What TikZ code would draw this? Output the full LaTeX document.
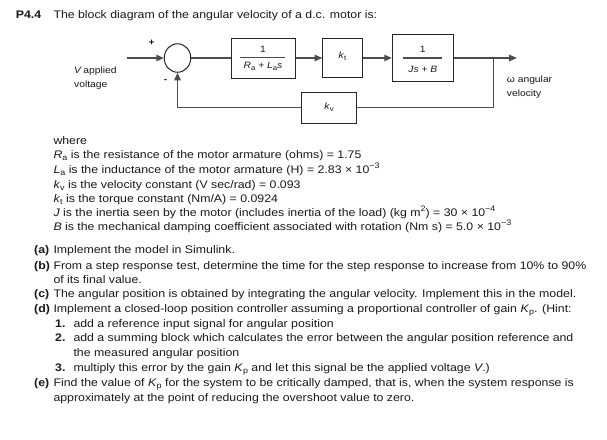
\documentclass[tikz,border=0pt]{standalone}
\usepackage{fontspec}
\setmainfont{Liberation Sans}[FakeStretch=1.12]
\usetikzlibrary{arrows.meta,shapes.geometric}
\newcommand{\sbs}[1]{\raisebox{-0.4ex}{\fontsize{8}{8}\selectfont #1}}
\newcommand{\sps}[1]{\raisebox{0.85ex}{\fontsize{8}{8}\selectfont #1}}
\newcommand{\dsbs}[1]{\raisebox{-0.4ex}{\fontsize{7}{7}\selectfont #1}}
\begin{document}
\begin{tikzpicture}[x=1pt,y=-1pt,
  txt/.style={anchor=base west, inner sep=0pt, text=black!90, font=\fontsize{11}{13}\selectfont},
  small/.style={inner sep=0pt, text=black!90, font=\fontsize{9.2}{10}\selectfont},
  blk/.style={draw=black!85, line width=1pt, inner sep=0pt},
  con/.style={draw=black!70, line width=1.1pt},
  arr/.style={con, -{Triangle[length=7.5pt,width=6.5pt]}}]
\useasboundingbox (0,0) rectangle (607,439);
% ---------- diagram ----------
\node[blk, ellipse, minimum width=26.5pt, minimum height=28.5pt] (sum) at (177.5,58) {};
\node[blk, minimum width=64pt, minimum height=40pt] (b1) at (263,58) {};
\node[blk, minimum width=39.6pt, minimum height=38.3pt] (b2) at (342.5,58) {};
\node[blk, minimum width=61pt, minimum height=47.4pt] (b3) at (422.8,58) {};
\node[blk, minimum width=54.6pt, minimum height=31pt] (kv) at (329,107.5) {};
\node[small] (n1) at (263,49) {1};
\draw[con] (240,57.5) -- (285,57.5);
\node[small] (d1) at (263,66) {\textit{R}\dsbs{a} + \textit{L}\dsbs{a}\textit{s}};
\node[small] (kt) at (342.5,56) {\textit{k}\dsbs{t}};
\node[small] (n3) at (422.8,49.3) {1};
\draw[con] (403.3,58) -- (442.3,58);
\node[small] (d3) at (422.8,69.5) {\textit{J}\textit{s} + \textit{B}};
\node[small] (kvl) at (329,107.5) {\textit{k}\dsbs{v}};
\coordinate (in) at (127.3,58);
\coordinate (out) at (516.7,58);
\coordinate (br) at (493.3,58);
\draw[arr] (in) -- (sum.west);
\draw[con] (sum.east) -- (b1.west);
\draw[arr] (b1.east) -- (b2.west);
\draw[arr] (b2.east) -- (b3.west);
\draw[arr] (b3.east) -- (out);
\draw[con] (br) |- (kv.east);
\draw[arr] (kv.west) -| (sum.south);
\node[small] (plus) at (151.7,42.7) {\textbf{+}};
\node[small] (minus) at (165.7,81) {\textbf{-}};
\node[small, anchor=west] (va) at (74,71.5) {\textit{V}\,applied};
\node[small, anchor=west] (vb) at (74,85) {voltage};
\node[small, anchor=west] (wa) at (506.7,80) {ω angular};
\node[small, anchor=west] (wb) at (506.7,94) {velocity};
% ---------- text ----------
\node[txt] (t0) at (15.7,18.5) {\textbf{P4.4}};
\node[txt] (t1) at (53.3,18.5) {The block diagram of the angular velocity of a d.c. motor is:};
\node[txt] (w0) at (53.3,144) {where};
\node[txt] (w1) at (53.3,158) {\textit{R}\sbs{a} is the resistance of the motor armature (ohms) = 1.75};
\node[txt] (w2) at (53.3,173) {\textit{L}\sbs{a} is the inductance of the motor armature (H) = 2.83 × 10\sps{−3}};
\node[txt] (w3) at (53.3,188) {\textit{k}\sbs{v} is the velocity constant (V sec/rad) = 0.093};
\node[txt] (w4) at (53.3,202) {\textit{k}\sbs{t} is the torque constant (Nm/A) = 0.0924};
\node[txt] (w5) at (53.3,216) {\textit{J} is the inertia seen by the motor (includes inertia of the load) (kg m\sps{2}) = 30 × 10\sps{−4}};
\node[txt] (w6) at (53.3,230) {\textit{B} is the mechanical damping coefficient associated with rotation (Nm s) = 5.0 × 10\sps{−3}};
\node[txt] (la) at (34,253.5) {\textbf{(a)}};
\node[txt] (ta) at (53.3,253.5) {Implement the model in Simulink.};
\node[txt] (lb) at (34,269) {\textbf{(b)}};
\node[txt] (tb) at (53.3,269) {From a step response test, determine the time for the step response to increase from 10\% to 90\%};
\node[txt] (tb2) at (53.3,283) {of its final value.};
\node[txt] (lc) at (34,297.5) {\textbf{(c)}};
\node[txt] (tc) at (53.3,297.5) {The angular position is obtained by integrating the angular velocity. Implement this in the model.};
\node[txt] (ld) at (34,312.5) {\textbf{(d)}};
\node[txt] (td) at (53.3,312.5) {Implement a closed-loop position controller assuming a proportional controller of gain \textit{K}\sbs{p}. (Hint:};
\node[txt] (l1) at (55,327) {\textbf{1.}};
\node[txt] (t1a) at (73.3,327) {add a reference input signal for angular position};
\node[txt] (l2) at (55,341) {\textbf{2.}};
\node[txt] (t2a) at (73.3,341) {add a summing block which calculates the error between the angular position reference and};
\node[txt] (t2b) at (73.3,356) {the measured angular position};
\node[txt] (l3) at (55,371) {\textbf{3.}};
\node[txt] (t3a) at (73.3,371) {multiply this error by the gain \textit{K}\sbs{p} and let this signal be the applied voltage \textit{V}.)};
\node[txt] (le) at (34,386) {\textbf{(e)}};
\node[txt] (te) at (53.3,386) {Find the value of \textit{K}\sbs{p} for the system to be critically damped, that is, when the system response is};
\node[txt] (te2) at (53.3,401) {approximately at the point of reducing the overshoot value to zero.};
\end{tikzpicture}
\end{document}
